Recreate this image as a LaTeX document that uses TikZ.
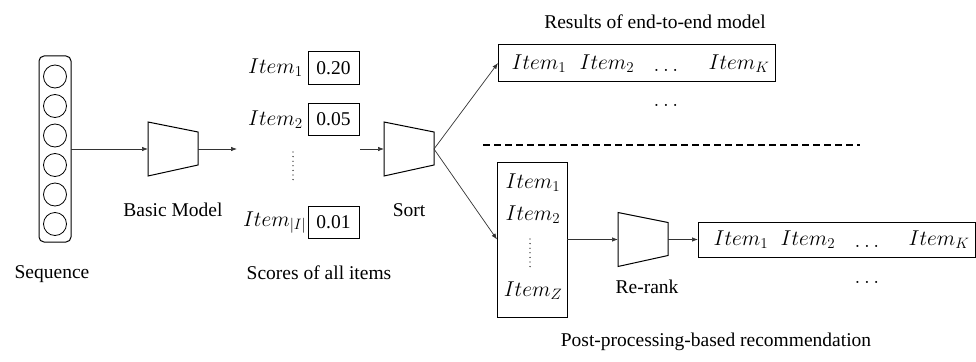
\RequirePackage{fix-cm}
\documentclass[tikz,border=0pt]{standalone}
\usepackage{fontspec}
\setmainfont{Liberation Serif}
\newfontfamily\labelfont{Liberation Serif}
\usetikzlibrary{arrows.meta}

\tikzset{
  wire/.style={line width=0.7pt, draw=black!80, -{Latex[length=6pt,width=4.5pt]}},
  frame/.style={draw, line width=1pt, inner sep=0pt, outer sep=0pt},
  scorebox/.style={frame, minimum width=51pt, minimum height=32pt},
  hidden/.style={inner sep=0pt, outer sep=0pt, minimum width=50pt, minimum height=54pt},
  cell/.style={draw, line width=0.8pt, circle, minimum size=23pt, inner sep=0pt},
  lbl/.style={inner sep=0pt},
  itm/.style={inner sep=0pt, font=\fontsize{21.5}{24}\selectfont},
  vdots/.style={line width=1.3pt, line cap=round, dash pattern=on 0pt off 4.6pt},
}

% trapezoid drawn over an invisible named node
\newcommand{\funnel}[1]{%
  \draw[line width=1pt, line join=miter] (#1.north west) -- ([yshift=-10pt]#1.north east)
    -- ([yshift=11pt]#1.south east) -- (#1.south west) -- cycle;}

\begin{document}
\begin{tikzpicture}[x=1pt, y=-1pt, font=\labelfont\fontsize{19.5}{23}\selectfont]
\useasboundingbox (0,0) rectangle (976,361);

% input sequence
\node[frame, rounded corners=5pt, minimum width=32pt, minimum height=186pt] (seq) at (55,149) {};
\foreach \i in {0,...,5}
  \node[cell] (c\i) at (55,76.5+29.5*\i) {};
\node[lbl] (seqlbl) at (52,274) {Sequence};

% basic model
\node[hidden] (bm) at (173,149) {};
\funnel{bm}
\node[lbl] (bmlbl) at (173,210) {Basic Model};
\coordinate (bmout) at (237,149);
\draw[wire] (seq.east) -- (bm.west);
\draw[wire] (bm.east) -- (bmout);

% scores of all items
\node[scorebox] (s1) at (333.5,68) {0.20};
\node[scorebox] (s2) at (333.5,119.5) {0.05};
\node[scorebox] (s3) at (333.5,222.5) {0.01};
\node[itm, anchor=west] (i1) at (248,68) {$Item_1$};
\node[itm, anchor=west] (i2) at (248,119.5) {$Item_2$};
\node[itm, anchor=east] (i3) at (306.5,222.5) {$Item_{|I|}$};
\coordinate (d1a) at (293,152);
\coordinate (d1b) at (293,184);
\draw[vdots] (d1a) -- (d1b);
\node[lbl] (scorelbl) at (319,273) {Scores of all items};

% sort
\node[hidden] (sort) at (409,149) {};
\funnel{sort}
\node[lbl] (sortlbl) at (409,210) {Sort};
\coordinate (sortin) at (360,149);
\draw[wire] (sortin) -- (sort.west);

% end-to-end result list
\node[frame, minimum width=277pt, minimum height=36pt] (top) at (636.5,63) {};
\node[itm] (t1) at (539,64) {$Item_1$};
\node[itm] (t2) at (607,64) {$Item_2$};
\node[itm] (t3) at (666,70) {$\dots$};
\node[itm] (t4) at (739,64) {$Item_K$};
\node[itm] (tdots) at (666,105) {$\dots$};
\node[lbl] (toplbl) at (655,22) {Results of end-to-end model};
\draw[wire] (sort.east) -- (top.west);

% separator
\coordinate (sepa) at (483,145);
\coordinate (sepb) at (860,145);
\draw[line width=1.5pt, dash pattern=on 7pt off 4pt] (sepa) -- (sepb);

% candidate list
\node[frame, minimum width=70pt, minimum height=155pt] (cand) at (532,239.5) {};
\node[itm] (k1) at (533,183) {$Item_1$};
\node[itm] (k2) at (533,215) {$Item_2$};
\coordinate (d2a) at (530,239);
\coordinate (d2b) at (530,270);
\draw[vdots] (d2a) -- (d2b);
\node[itm] (k3) at (533,291) {$Item_Z$};
\draw[wire] (sort.east) -- (cand.west);

% re-rank
\node[hidden] (rr) at (643,239.5) {};
\funnel{rr}
\node[lbl] (rrlbl) at (647,287) {Re-rank};
\draw[wire] (cand.east |- rr.west) -- (rr.west);

% final list
\node[frame, minimum width=277pt, minimum height=35pt] (fin) at (836.5,239.5) {};
\node[itm] (f1) at (741,240) {$Item_1$};
\node[itm] (f2) at (808,240) {$Item_2$};
\node[itm] (f3) at (867,246) {$\dots$};
\node[itm] (f4) at (939,240) {$Item_K$};
\node[itm] (fdots) at (867,282) {$\dots$};
\draw[wire] (rr.east) -- (fin.west);
\node[lbl] (finlbl) at (716,342) {Post-processing-based recommendation};
\end{tikzpicture}
\end{document}
